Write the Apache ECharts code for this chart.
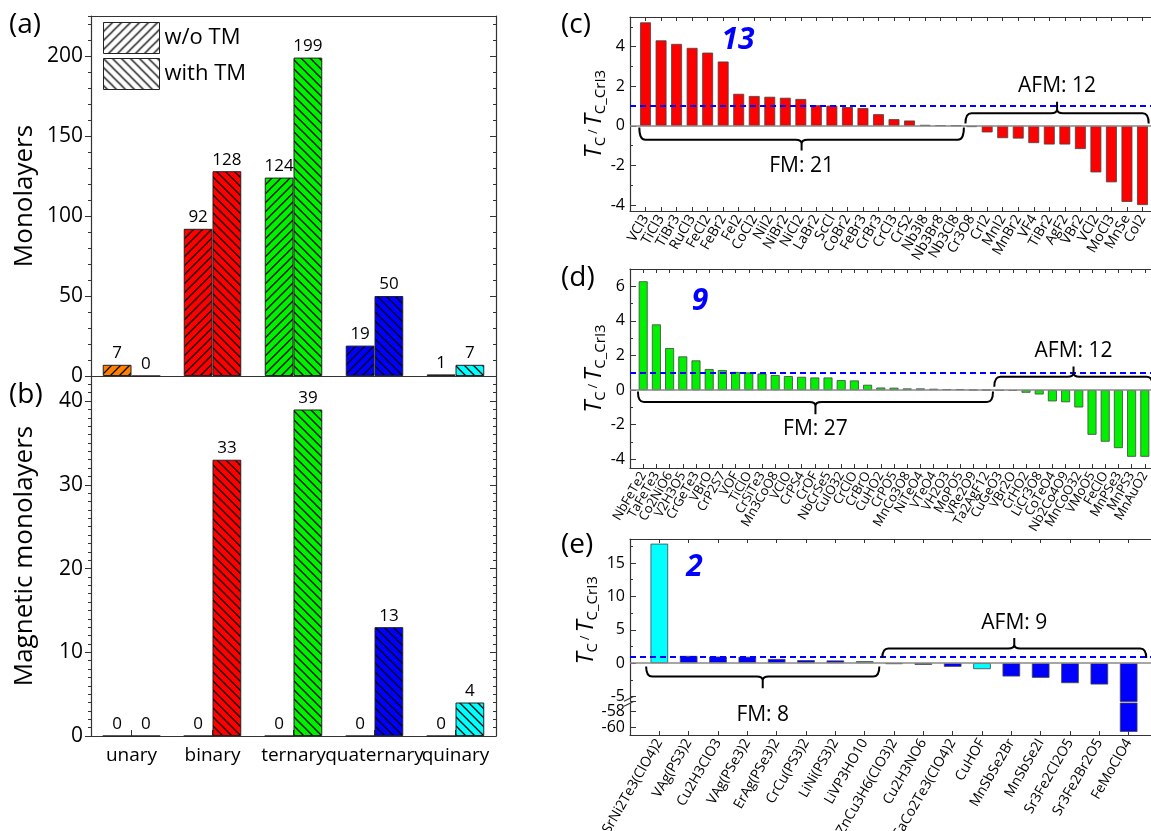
<!DOCTYPE html>
<html><head><meta charset="utf-8">
<script src="https://cdn.jsdelivr.net/npm/echarts@6/dist/echarts.min.js"></script>
<style>html,body{margin:0;padding:0;background:#fff}#c{width:1151px;height:831px}</style>
</head><body><div id="c"></div>
<script>
// ---------------- DATA ----------------
const classes = ['unary', 'binary', 'ternary', 'quaternary', 'quinary'];
const monoNoTM = [7, 92, 124, 19, 1];
const monoTM   = [0, 128, 199, 50, 7];
const magNoTM  = [0, 0, 0, 0, 0];
const magTM    = [0, 33, 39, 13, 4];

const binNames = ['VCl3','TiCl3','TiBr3','RuCl3','FeCl2','FeBr2','FeI2','CoCl2','NiI2','NiBr2','NiCl2','LaBr2','ScCl','CoBr2','FeBr3','CrBr3','CrCl3','CrS2','Nb3I8','Nb3Br8','Nb3Cl8',
                  'Cr3O8','CrI2','MnI2','MnBr2','VF4','TiBr2','AgF2','VBr2','VCl2','MoCl3','MnSe','CoI2'];
const binVals  = [5.23,4.32,4.14,3.94,3.70,3.25,1.62,1.51,1.47,1.42,1.36,1.04,1.02,0.95,0.90,0.59,0.34,0.27,0.05,0.03,0.02,
                  -0.06,-0.33,-0.62,-0.64,-0.87,-0.94,-0.94,-1.17,-2.35,-2.85,-3.84,-4.0];

const terNames = ['NbFeTe2','TaFeTe3','Co2NiO6','V2H3O5','CrGeTe3','VBrO','CrP2S7','VOF','TiClO','CrSiTe3','Mn3CoO8','VClO','CrPS4','CrOF','NbCrSe5','CuIO32','CrClO','CrBrO','CuHO2','CrPO5','MnCo3O8','NiTeO4','VTeO4','VH2O3','MoPO5','VRe2O9','Ta2AgF12',
                  'CuGeO3','VBr2O','CrHO2','LiCr3O8','CoTeO4','Nb2Co4O9','MnCoO32','VMoO5','FeClO','MnPSe3','MnPS3','MnAuO2'];
const terVals  = [6.29,3.80,2.43,1.95,1.72,1.22,1.16,1.05,1.02,0.96,0.87,0.81,0.77,0.73,0.73,0.58,0.56,0.31,0.15,0.14,0.10,0.10,0.08,0.06,0.06,0.02,0.01,
                  -0.02,-0.04,-0.15,-0.25,-0.65,-0.70,-1.0,-2.58,-2.98,-3.35,-3.85,-3.85];

const quaNames = ['SrNi2Te3(ClO4)2','VAg(PS3)2','Cu2H3ClO3','VAg(PSe3)2','ErAg(PSe3)2','CrCu(PS3)2','LiNi(PS3)2','LiVP3HO10',
                  'ZnCu3H6(ClO3)2','Cu2H3NO6','CaCo2Te3(ClO4)2','CuHOF','MnSbSe2Br','MnSbSe2I','Sr3Fe2Cl2O5','Sr3Fe2Br2O5','FeMoClO4'];
const quaVals  = [17.9,1.08,0.98,0.95,0.62,0.45,0.40,0.30,
                  -0.15,-0.25,-0.55,-0.9,-2.0,-2.2,-3.0,-3.2,-60.6];
const quaClass = ['quinary','quaternary','quaternary','quaternary','quaternary','quaternary','quaternary','quinary',
                  'quaternary','quaternary','quaternary','quinary','quaternary','quaternary','quaternary','quaternary','quaternary'];

// ---------------- STYLE ----------------
const FONT = '"Open Sans","Noto Sans",sans-serif';
const AX = '#333';
const classColor = {unary:'#ff8000', binary:'#ff0000', ternary:'#00f000', quaternary:'#0000ff', quinary:'#00ffff'};

function hatch(bg, dir) {
  const s = 9, c = document.createElement('canvas');
  c.width = s; c.height = s;
  const g = c.getContext('2d');
  g.fillStyle = bg; g.fillRect(0, 0, s, s);
  g.strokeStyle = '#000'; g.lineWidth = 1.25;
  g.beginPath();
  if (dir === '/') {
    g.moveTo(-1, s + 1); g.lineTo(s + 1, -1);
    g.moveTo(-1, 1); g.lineTo(1, -1);
    g.moveTo(s - 1, s + 1); g.lineTo(s + 1, s - 1);
  } else {
    g.moveTo(-1, -1); g.lineTo(s + 1, s + 1);
    g.moveTo(s - 1, -1); g.lineTo(s + 1, 1);
    g.moveTo(-1, s - 1); g.lineTo(1, s + 1);
  }
  g.stroke();
  return {image: c, repeat: 'repeat'};
}

const pad = a => ['', ...a, ''];
const padV = a => [null, ...a, null];

// layout
const GA = {left: 91, top: 16, width: 405, height: 360};
const GB = {left: 91, top: 376, width: 405, height: 360};
const RL = 630, RW = 528;
const GC = {left: RL, top: 17, width: RW, height: 194};
const GD = {left: RL, top: 269, width: RW, height: 199};
const GE1 = {left: RL, top: 539, width: RW, height: 162.5};
const GE2 = {left: RL, top: 703, width: RW, height: 32};

const tcName = '{t|T}{s|C} / {t|T}{s|C_CrI3}';
const tcNameStyle = {color: '#000', fontFamily: FONT, rich: {
  t: {fontSize: 24, fontStyle: 'italic', fontFamily: FONT, lineHeight: 30, verticalAlign: 'middle', color: '#000'},
  s: {fontSize: 15, fontFamily: FONT, lineHeight: 15, verticalAlign: 'bottom', color: '#000', padding: [0, 0, 1, 0]}
}};

// ---------------- AXES ----------------
function catAxis(grid, pos, data, o) {
  return Object.assign({
    type: 'category', gridIndex: grid, position: pos, data: data,
    axisLine: {show: true, onZero: false, lineStyle: {color: AX, width: 1.2}},
    axisTick: {show: false}, axisLabel: {show: false}, splitLine: {show: false}
  }, o);
}
function rotLabels(size, rot) {
  return {show: true, interval: 0, rotate: rot, fontSize: size, fontFamily: FONT, color: '#000', margin: 5};
}
const catTick = {show: true, inside: true, interval: 0, length: 4, lineStyle: {color: AX}};
const xAxes = [
  catAxis(0, 'bottom', classes),
  catAxis(0, 'top', classes),
  catAxis(1, 'bottom', classes, {
    axisTick: {show: true, inside: true, alignWithLabel: true, length: 6, lineStyle: {color: AX}},
    axisLabel: {show: true, interval: 0, fontSize: 19, fontFamily: FONT, color: '#000', margin: 10}
  }),
  catAxis(2, 'bottom', pad(binNames), {boundaryGap: false, axisTick: catTick, axisLabel: rotLabels(14, 60)}),
  catAxis(2, 'top', pad(binNames), {boundaryGap: false, axisTick: catTick}),
  catAxis(3, 'bottom', pad(terNames), {boundaryGap: false, axisTick: catTick, axisLabel: rotLabels(13, 60)}),
  catAxis(3, 'top', pad(terNames), {boundaryGap: false, axisTick: catTick}),
  catAxis(4, 'bottom', pad(quaNames), {boundaryGap: false, show: false}),
  catAxis(4, 'top', pad(quaNames), {boundaryGap: false, axisTick: catTick}),
  catAxis(5, 'bottom', pad(quaNames), {boundaryGap: false, axisTick: catTick, axisLabel: rotLabels(14, 60)})
];

function valAxis(grid, pos, o) {
  return Object.assign({
    type: 'value', gridIndex: grid, position: pos, nameMoveOverlap: false,
    axisLine: {show: true, lineStyle: {color: AX, width: 1.2}},
    axisTick: {show: true, inside: false, length: 5, lineStyle: {color: AX}},
    axisLabel: {show: false}, splitLine: {show: false}
  }, o);
}
const leftLbl = {show: true, fontSize: 21, fontFamily: FONT, color: '#000', margin: 8, showMaxLabel: false};
const rightLbl = {show: true, fontSize: 16, fontFamily: FONT, color: '#000', margin: 5, showMaxLabel: false, showMinLabel: false};
const inTick = (len) => ({show: true, inside: true, length: len, lineStyle: {color: AX}});
const outTick = (len) => ({show: true, inside: false, length: len, lineStyle: {color: AX}});
const leftName = {fontSize: 26, fontFamily: FONT, color: '#000'};

const yAxes = [
  // (a) 0..3
  valAxis(0, 'left', {min: 0, max: 225, interval: 50, axisTick: outTick(6), axisLabel: leftLbl,
    name: 'Monolayers', nameLocation: 'middle', nameGap: 53, nameTextStyle: leftName}),
  valAxis(0, 'left', {min: 0, max: 225, interval: 10, axisLine: {show: false}, axisTick: outTick(3)}),
  valAxis(0, 'right', {min: 0, max: 225, interval: 50, axisTick: inTick(6)}),
  valAxis(0, 'right', {min: 0, max: 225, interval: 10, axisLine: {show: false}, axisTick: inTick(3)}),
  // (b) 4..7
  valAxis(1, 'left', {min: 0, max: 43, interval: 10, axisTick: outTick(6), axisLabel: leftLbl,
    name: 'Magnetic monolayers', nameLocation: 'middle', nameGap: 53, nameTextStyle: leftName}),
  valAxis(1, 'left', {min: 0, max: 43, interval: 1, axisLine: {show: false}, axisTick: outTick(3)}),
  valAxis(1, 'right', {min: 0, max: 43, interval: 10, axisTick: inTick(6)}),
  valAxis(1, 'right', {min: 0, max: 43, interval: 1, axisLine: {show: false}, axisTick: inTick(3)}),
  // (c) 8..9
  valAxis(2, 'left', {min: -4.3, max: 5.5, splitNumber: 5, axisTick: inTick(6), axisLabel: rightLbl,
    name: tcName, nameLocation: 'middle', nameGap: 21, nameTextStyle: tcNameStyle}),
  valAxis(2, 'left', {min: -4.3, max: 5.5, splitNumber: 10, axisLine: {show: false}, axisTick: inTick(3)}),
  // (d) 10..11
  valAxis(3, 'left', {min: -4.5, max: 7, splitNumber: 5, axisTick: inTick(6), axisLabel: rightLbl,
    name: tcName, nameLocation: 'middle', nameGap: 21, nameTextStyle: tcNameStyle}),
  valAxis(3, 'left', {min: -4.5, max: 7, splitNumber: 10, axisLine: {show: false}, axisTick: inTick(3)}),
  // (e) upper 12, lower 13
  valAxis(4, 'left', {min: -5.75, max: 18.6, splitNumber: 5, axisTick: inTick(6),
    minorTick: {show: true, splitNumber: 2, length: 3, lineStyle: {color: AX}},
    axisLabel: rightLbl, name: tcName, nameLocation: 'middle', nameGap: 29, nameTextStyle: tcNameStyle}),
  valAxis(5, 'left', {min: -61, max: -56.9, splitNumber: 2, axisTick: inTick(6), axisLabel: rightLbl})
];

// ---------------- SERIES ----------------
function classBars(name, vals, dir, xi, yi) {
  return {
    type: 'bar', name: name, xAxisIndex: xi, yAxisIndex: yi,
    barGap: '0%', barCategoryGap: '29%',
    data: vals.map((v, i) => ({value: v, itemStyle: {color: hatch(classColor[classes[i]], dir)}})),
    itemStyle: {borderColor: '#222', borderWidth: 1},
    label: {show: true, position: 'top', distance: 3, fontSize: 17, fontFamily: FONT, color: '#000'}
  };
}

const refLines = {
  symbol: 'none', silent: true, label: {show: false},
  data: [
    {yAxis: 0, lineStyle: {color: '#888', width: 1.5, type: 'solid'}},
    {yAxis: 1, lineStyle: {color: '#0000ff', width: 2, type: [6, 4]}}
  ]
};

function tcBars(xi, yi, vals, colors, widthPct, withLines) {
  const s = {
    type: 'bar', xAxisIndex: xi, yAxisIndex: yi, barWidth: widthPct, clip: true,
    data: padV(vals).map((v, i) => v === null ? null : {value: v, itemStyle: {color: colors[i - 1]}}),
    itemStyle: {borderColor: '#444', borderWidth: 0.8}
  };
  if (withLines) s.markLine = refLines;
  return s;
}

// annotation (brackets + count) drawn through the axis scales
function annoSeries(xi, yi, vals, A) {
  const n = vals.length;
  const nFM = vals.filter(v => v > 0).length;
  const nHigh = vals.filter(v => v > 1).length;
  const items = [
    Object.assign({kind: 'br', x0: A.fmX0, x1: nFM + 0.5, text: 'FM: ' + nFM}, A.fm),
    Object.assign({kind: 'br', x0: nFM + 0.6, x1: n + A.afmEnd, text: 'AFM: ' + (n - nFM)}, A.afm),
    {kind: 'count', x: A.count[0], y: A.count[1], text: String(nHigh)}
  ];
  return {
    type: 'custom', xAxisIndex: xi, yAxisIndex: yi, silent: true, clip: false, z: 10,
    data: items.map((d, i) => [i + 1, 0]),
    renderItem: function (params, api) {
      const it = items[params.dataIndex];
      const a = api.coord([1, 0]), b = api.coord([2, 0]);
      const step = b[0] - a[0];
      const px = f => a[0] + (f - 1) * step;
      const py = v => api.coord([1, v])[1];
      if (it.kind === 'count') {
        return {type: 'text', x: px(it.x), y: py(it.y), style: {text: it.text, fill: '#0000ff',
          font: 'italic bold 30px ' + FONT, align: 'center', verticalAlign: 'middle'}};
      }
      const x0 = px(it.x0), x1 = px(it.x1), xc = (x0 + x1) / 2;
      const yl = py(it.yLine), yh = py(it.yHook), ys = py(it.ySpike), yt = py(it.yText);
      const r = 6, d = Math.sign(ys - yl), rr = Math.min(4, Math.abs(ys - yl) / 2);
      const path = 'M' + x0 + ',' + yh + ' Q' + x0 + ',' + yl + ' ' + (x0 + r) + ',' + yl +
        ' L' + (xc - r) + ',' + yl + ' Q' + xc + ',' + yl + ' ' + xc + ',' + (yl + d * rr) +
        ' L' + xc + ',' + ys +
        ' M' + xc + ',' + (yl + d * rr) + ' Q' + xc + ',' + yl + ' ' + (xc + r) + ',' + yl +
        ' L' + (x1 - r) + ',' + yl + ' Q' + x1 + ',' + yl + ' ' + x1 + ',' + yh;
      return {type: 'group', children: [
        {type: 'path', shape: {pathData: path}, style: {stroke: '#000', lineWidth: 2, fill: 'none'}},
        {type: 'text', x: xc, y: yt, style: {text: it.text, fill: '#000', fontSize: 21, fontFamily: FONT,
          align: 'center', verticalAlign: 'middle'}}
      ]};
    }
  };
}

const series = [
  classBars('w/o TM', monoNoTM, '/', 0, 0),
  classBars('with TM', monoTM, '\\', 0, 0),
  classBars('w/o TM', magNoTM, '/', 2, 4),
  classBars('with TM', magTM, '\\', 2, 4),
  tcBars(3, 8, binVals, binVals.map(() => classColor.binary), '70%', true),
  annoSeries(3, 8, binVals, {fmX0: 0.6, afmEnd: 0.4,
    fm: {yLine: -0.7, yHook: -0.08, ySpike: -1.24, yText: -2.05},
    afm: {yLine: 0.64, yHook: 0.12, ySpike: 1.22, yText: 2.0}, count: [6.95, 4.3]}),
  tcBars(5, 10, terVals, terVals.map(() => classColor.ternary), '68%', true),
  annoSeries(5, 10, terVals, {fmX0: 0.6, afmEnd: 0.6,
    fm: {yLine: -0.69, yHook: -0.08, ySpike: -1.4, yText: -2.23},
    afm: {yLine: 0.77, yHook: 0.2, ySpike: 1.37, yText: 2.26}, count: [5.3, 5.1]}),
  tcBars(7, 12, quaVals, quaClass.map(c => classColor[c]), '60%', true),
  tcBars(9, 13, quaVals, quaClass.map(c => classColor[c]), '60%', false),
  annoSeries(7, 12, quaVals, {fmX0: 0.55, afmEnd: 0.6,
    fm: {yLine: -2.0, yHook: -0.5, ySpike: -3.75, yText: -7.75},
    afm: {yLine: 2.2, yHook: 0.75, ySpike: 3.75, yText: 6.05}, count: [2.2, 14.4]})
];

// ---------------- CHART ----------------
const chart = echarts.init(document.getElementById('c'), null, {renderer: 'canvas'});
const breakY = GE1.top + GE1.height + 0.75;
const panelLbl = (t, x, y) => ({type: 'text', left: x, top: y, style: {text: t, fontSize: 28, fontFamily: FONT, fill: '#000'}});
chart.setOption({
  animation: false,
  backgroundColor: '#fff',
  textStyle: {fontFamily: FONT},
  grid: [GA, GB, GC, GD, GE1, GE2].map(g => Object.assign({outerBoundsMode: 'none', containLabel: false}, g)),
  xAxis: xAxes,
  yAxis: yAxes,
  legend: {
    orient: 'vertical', left: 103, top: 22, padding: 0, itemGap: 4,
    itemWidth: 56, itemHeight: 31, icon: 'rect', selectedMode: false,
    textStyle: {fontSize: 22, fontFamily: FONT, color: '#000'},
    data: [
      {name: 'w/o TM', itemStyle: {color: hatch('#ffffff', '/'), borderColor: '#222', borderWidth: 1}},
      {name: 'with TM', itemStyle: {color: hatch('#ffffff', '\\'), borderColor: '#222', borderWidth: 1}}
    ]
  },
  graphic: [
    panelLbl('(a)', 9, 11),
    panelLbl('(b)', 9, 381),
    panelLbl('(c)', 561, 11),
    panelLbl('(d)', 561, 264),
    panelLbl('(e)', 561, 531),
    {type: 'group', z: 100, children: [
      {type: 'rect', shape: {x: RL - 5, y: breakY - 3, width: 10, height: 6}, style: {fill: '#fff'}},
      {type: 'line', shape: {x1: RL - 6, y1: breakY - 1, x2: RL + 4, y2: breakY - 6}, style: {stroke: AX, lineWidth: 1.2}},
      {type: 'line', shape: {x1: RL - 6, y1: breakY + 4, x2: RL + 4, y2: breakY - 1}, style: {stroke: AX, lineWidth: 1.2}}
    ]}
  ],
  series: series
});
</script></body></html>
